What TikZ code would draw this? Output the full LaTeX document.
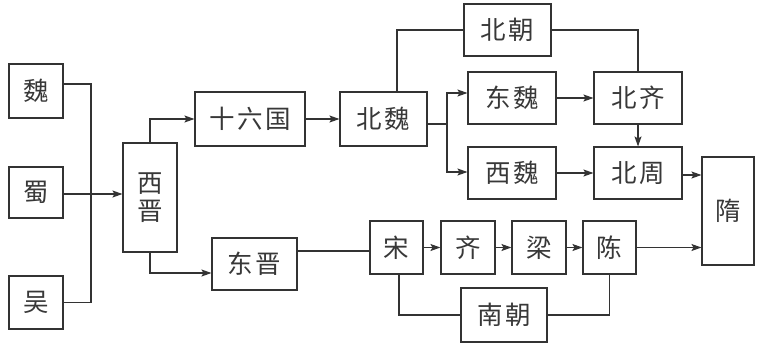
\documentclass[tikz,border=0pt]{standalone}
\usepackage{fontspec}
\newfontfamily\cjk[LetterSpace=10]{Noto Sans CJK SC}
\usetikzlibrary{arrows.meta,calc}
\begin{document}
\begin{tikzpicture}[x=1pt,y=-1pt,
  box/.style={draw=black!80, line width=1.1pt, inner sep=0pt, text=black!78,
    font=\cjk\fontsize{25.5}{28}\selectfont, align=center},
  conn/.style={draw=black!80, line width=1.1pt},
  arr/.style={conn, -{Stealth[length=10pt,width=7pt,inset=2pt]}}]
\useasboundingbox (0,0) rectangle (762,343);
% left column
\node[box, minimum width=54pt, minimum height=54pt] (wei) at (36,91) {魏};
\node[box, minimum width=54pt, minimum height=51pt] (shu) at (36,192.5) {蜀};
\node[box, minimum width=54pt, minimum height=53pt] (wu) at (36,302.5) {吴};
\node[box, minimum width=54pt, minimum height=109pt] (xijin) at (150,197.5) {西\\晋};
% north
\node[box, minimum width=110pt, minimum height=54pt] (shiliu) at (250,119) {十六国};
\node[box, minimum width=87pt, minimum height=54pt] (beiwei) at (383.5,119) {北魏};
\node[box, minimum width=87pt, minimum height=52pt] (beichao) at (507.5,30) {北朝};
\node[box, minimum width=88pt, minimum height=52pt] (dongwei) at (512,98) {东魏};
\node[box, minimum width=88pt, minimum height=52pt] (beiqi) at (638,98) {北齐};
\node[box, minimum width=88pt, minimum height=52pt] (xiwei) at (512,173) {西魏};
\node[box, minimum width=88pt, minimum height=52pt] (beizhou) at (638,173) {北周};
\node[box, minimum width=52pt, minimum height=108pt] (sui) at (728,211) {隋};
% south
\node[box, minimum width=85pt, minimum height=52pt] (dongjin) at (254.5,264) {东晋};
\node[box, minimum width=53pt, minimum height=53pt] (song) at (396.5,247.5) {宋};
\node[box, minimum width=54pt, minimum height=53pt] (qi) at (468,247.5) {齐};
\node[box, minimum width=54pt, minimum height=53pt] (liang) at (539,247.5) {梁};
\node[box, minimum width=53pt, minimum height=53pt] (chen) at (609.5,247.5) {陈};
\node[box, minimum width=86pt, minimum height=54pt] (nanchao) at (504,315) {南朝};
% connectors
\coordinate (jt) at (91,194);
\coordinate (br) at (447,124);
\draw[conn] ([yshift=7pt]wei.east) -| (jt);
\draw[conn] (wu.east) -| (jt);
\draw[arr] (shu.east |- jt) -- (xijin.west |- jt);
\draw[arr] (xijin.north) |- (shiliu.west);
\draw[arr] (xijin.south) |- ([yshift=-9pt]dongjin.west);
\draw[arr] (shiliu) -- (beiwei);
\draw[conn] ([xshift=13.5pt]beiwei.north) |- (beichao.west);
\draw[conn] (beichao.east) -| (beiqi.north);
\draw[conn] ([yshift=-5pt]beiwei.east) -- (br);
\draw[arr] (br) |- ([yshift=5pt]dongwei.west);
\draw[arr] (br) |- ([yshift=1pt]xiwei.west);
\draw[arr] (dongwei) -- (beiqi);
\draw[arr] (beiqi) -- (beizhou);
\draw[arr] (xiwei) -- (beizhou);
\draw[arr] ([yshift=-2pt]beizhou.east) -- ([yshift=-2pt]beizhou.east -| sui.west);
\draw[conn] ([yshift=13pt]dongjin.east) -- ([yshift=13pt]dongjin.east -| song.west);
\draw[arr] (song) -- (qi);
\draw[arr] (qi) -- (liang);
\draw[arr] (liang) -- (chen);
\draw[arr] (chen.east) -- (chen.east -| sui.west);
\draw[conn] ([xshift=2.5pt]song.south) |- (nanchao.west);
\draw[conn] (nanchao.east) -| (chen.south);
\end{tikzpicture}
\end{document}
